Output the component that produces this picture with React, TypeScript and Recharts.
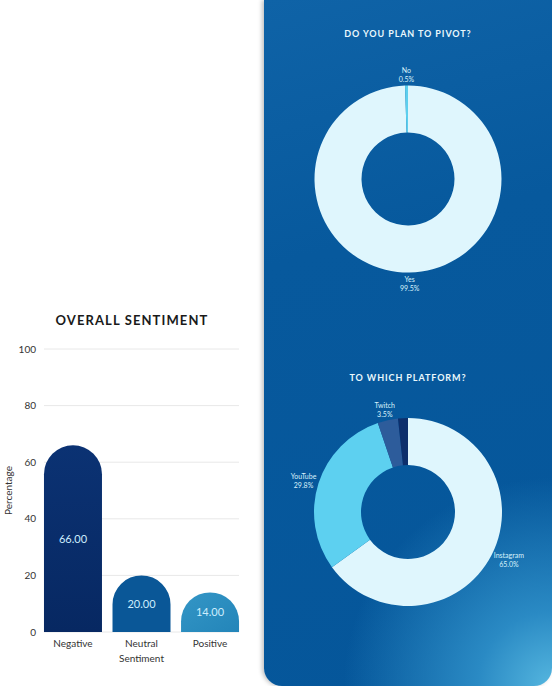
import React from 'react';
import {
  BarChart, Bar, XAxis, YAxis, CartesianGrid, LabelList, Cell,
  PieChart, Pie,
} from 'recharts';

const sentimentCategories = ['Negative', 'Neutral', 'Positive'];
const sentimentValues = [66, 20, 14];
const sentimentTicks = [0, 20, 40, 60, 80, 100];

const pivotLabels = ['Yes', 'No'];
const pivotValues = [99.5, 0.5];

const platformLabels = ['Instagram', 'YouTube', 'Twitch', 'Other'];
const platformValues = [65.0, 29.8, 3.5, 1.7];

const sentimentData = sentimentCategories.map((name, i) => ({ name, value: sentimentValues[i] }));
const pivotData = pivotLabels.map((name, i) => ({ name, value: pivotValues[i] }));
const platformData = platformLabels.map((name, i) => ({ name, value: platformValues[i] }));

const BAR_FILLS = ['url(#negGrad)', '#0a5797', 'url(#posGrad)'];
const PIVOT_COLORS = ['#dff6fd', '#5ccfee'];
const PLATFORM_COLORS = ['#dff6fd', '#5dd0f0', '#2d5c9b', '#0d2f6c'];

const RADIAN = Math.PI / 180;

// dome-topped bar: the corner radius is half the width, even on short bars
const DomeBar = (props: any) => {
  const { x, y, width, height, fill } = props;
  if (!height || height <= 0) return null;
  const r = Math.min(width / 2, height);
  const d = `M${x},${y + height} L${x},${y + r} A${width / 2},${r} 0 0 1 ${x + width},${y + r} L${x + width},${y + height} Z`;
  return <path d={d} fill={fill} />;
};

// label box sits just outside the ring, pushed out by half its own size
const renderPieLabel = (props: any) => {
  const { cx, cy, midAngle, outerRadius, name, value } = props;
  if (name === 'Other') return null;
  const pct = `${Number(value).toFixed(1)}%`;
  const cos = Math.cos(-midAngle * RADIAN);
  const sin = Math.sin(-midAngle * RADIAN);
  const halfW = (Math.max(String(name).length, pct.length) * 3.6) / 2;
  const halfH = 8;
  const r = outerRadius + 3;
  const x = cx + r * cos + halfW * cos;
  const y = cy + r * sin + halfH * sin;
  return (
    <text x={x} y={y} fill="#d9f2fb" fontSize={7} fontFamily="Lato, sans-serif" textAnchor="middle">
      <tspan x={x} dy={-1.5}>{name}</tspan>
      <tspan x={x} dy={9}>{pct}</tspan>
    </text>
  );
};

const panelTitle: React.CSSProperties = {
  position: 'absolute',
  left: 0,
  width: 288,
  textAlign: 'center',
  color: '#eaf8fd',
  fontFamily: 'Lato, sans-serif',
  fontWeight: 700,
  fontSize: 9,
  letterSpacing: 0.9,
};

export default function App() {
  return (
    <div style={{ position: 'absolute', left: 0, top: 0, width: 552, height: 686, background: '#fff', overflow: 'hidden' }}>
      <div
        style={{
          position: 'absolute', left: 0, top: 312, width: 264, textAlign: 'center',
          fontFamily: 'Lato, sans-serif', fontWeight: 700, fontSize: 13, letterSpacing: 1.1, color: '#1a1a1a',
        }}
      >
        OVERALL SENTIMENT
      </div>
      <div style={{ position: 'absolute', left: 0, top: 330 }}>
        <BarChart
          width={250}
          height={345}
          data={sentimentData}
          margin={{ top: 19, right: 11, bottom: 5, left: 0 }}
          barCategoryGap="7.7%"
          style={{ fontFamily: 'Lato, sans-serif' }}
        >
          <defs>
            <linearGradient id="negGrad" x1="0" y1="0" x2="0" y2="1">
              <stop offset="0%" stopColor="#0b3273" />
              <stop offset="100%" stopColor="#072862" />
            </linearGradient>
            <linearGradient id="posGrad" x1="0" y1="0" x2="1" y2="1">
              <stop offset="0%" stopColor="#3496c6" />
              <stop offset="100%" stopColor="#2385b9" />
            </linearGradient>
          </defs>
          <CartesianGrid vertical={false} stroke="#e8e8e8" />
          <XAxis
            dataKey="name"
            axisLine={false}
            tickLine={false}
            height={38}
            padding={{ left: -5.3, right: -5.3 }}
            tick={{ fill: '#333', fontSize: 10 }}
            label={{ value: 'Sentiment', position: 'insideBottom', offset: 8, fill: '#333', fontSize: 10 }}
          />
          <YAxis
            domain={[0, 100]}
            ticks={sentimentTicks}
            axisLine={false}
            tickLine={false}
            width={44}
            tick={{ fill: '#333', fontSize: 10 }}
            label={{ value: 'Percentage', angle: -90, position: 'insideLeft', offset: 8, fill: '#333', fontSize: 10, style: { textAnchor: 'middle' } }}
          />
          <Bar dataKey="value" shape={DomeBar} isAnimationActive={false}>
            {sentimentData.map((d, i) => (
              <Cell key={d.name} fill={BAR_FILLS[i]} />
            ))}
            <LabelList
              dataKey="value"
              position="center"
              fill="#cdeefe"
              fontSize={11}
              formatter={(v: any) => Number(v).toFixed(2)}
            />
          </Bar>
        </BarChart>
      </div>

      <div
        style={{
          position: 'absolute', left: 264, top: 0, width: 288, height: 686,
          borderRadius: '0 0 18px 18px',
          boxShadow: '-2px 0 4px rgba(0,0,0,0.25)',
          background:
            'radial-gradient(circle at 100% 100%, #55b6df 0%, #2a8ac4 10%, rgba(6,87,155,0) 28%), linear-gradient(165deg, #0f63a7 0%, #07599d 35%, #05569a 100%)',
        }}
      >
        <div style={{ ...panelTitle, top: 28 }}>DO YOU PLAN TO PIVOT?</div>
        <div style={{ ...panelTitle, top: 372 }}>TO WHICH PLATFORM?</div>
        <div style={{ position: 'absolute', left: 0, top: 0 }}>
          <PieChart width={288} height={686} margin={{ top: 0, right: 0, bottom: 0, left: 0 }}>
            <Pie
              data={pivotData}
              dataKey="value"
              nameKey="name"
              cx={144}
              cy={179}
              innerRadius={46.5}
              outerRadius={93.5}
              startAngle={90}
              endAngle={-270}
              stroke="none"
              labelLine={false}
              label={renderPieLabel}
              isAnimationActive={false}
            >
              {pivotData.map((d, i) => (
                <Cell key={d.name} fill={PIVOT_COLORS[i]} />
              ))}
            </Pie>
            <Pie
              data={platformData}
              dataKey="value"
              nameKey="name"
              cx={144}
              cy={512}
              innerRadius={47}
              outerRadius={94}
              startAngle={90}
              endAngle={-270}
              stroke="none"
              labelLine={false}
              label={renderPieLabel}
              isAnimationActive={false}
            >
              {platformData.map((d, i) => (
                <Cell key={d.name} fill={PLATFORM_COLORS[i]} />
              ))}
            </Pie>
          </PieChart>
        </div>
      </div>
    </div>
  );
}
